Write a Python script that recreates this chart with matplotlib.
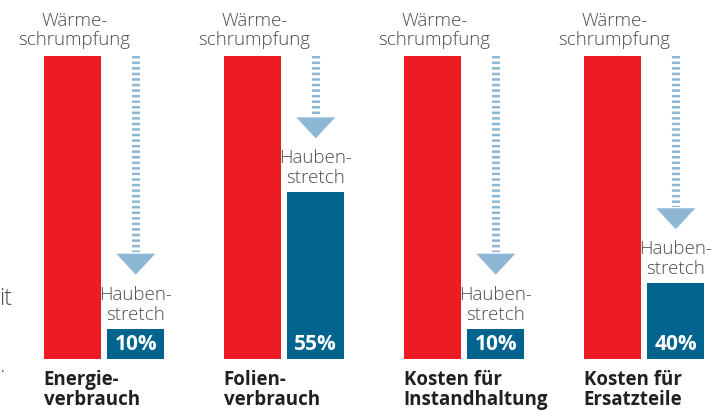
import matplotlib
matplotlib.use("Agg")
import matplotlib.pyplot as plt
from matplotlib.patches import Polygon

# ---- data ----
categories = ["Energie-\nverbrauch", "Folien-\nverbrauch", "Kosten für\nInstandhaltung", "Kosten für\nErsatzteile"]
waerme_values = [100, 100, 100, 100]          # Wärmeschrumpfung (reference = 100)
hauben_values = [10, 55, 10, 25]              # bar heights as drawn
hauben_labels = ["10%", "55%", "10%", "40%"]  # printed values
top_label = "Wärme-\nschrumpfung"
hauben_name = "Hauben-\nstretch"

RED = "#ED1C24"
BLUE = "#00648F"
ARROW = "#8DB7D4"
GRAY = "#4D4D4D"
DARK = "#231F20"

plt.rcParams['lines.scale_dashes'] = False
LIGHT_FONT = ["Open Sans", "DejaVu Sans"]
BOLD_FONT = ["Open Sans", "DejaVu Sans"]

fig = plt.figure(figsize=(7.28, 4.11), dpi=100)
ax = fig.add_axes([0, 0, 1, 1])
ax.set_xlim(-104 / 180, (728 - 104) / 180)
ax.set_ylim(-(411 - 359) / 3.03, 359 / 3.03)
ax.axis("off")

PX_Y = 100 / 303.0    # data units per pixel (y)
PX_X = 1 / 180.0      # data units per pixel (x)
off = 0.1764
w = 57 * PX_X

for i, cat in enumerate(categories):
    xr = i - off
    xb = i + off
    ax.bar(xr, waerme_values[i], width=w, color=RED, linewidth=0)
    ax.bar(xb, hauben_values[i], width=w, color=BLUE, linewidth=0)

    # top label over red bar
    for k, line in enumerate(top_label.split("\n")):
        ax.annotate(line, xy=(xr, waerme_values[i]), xytext=(2, 30 - 19 * k),
                    textcoords="offset pixels", ha="center", va="baseline",
                    fontsize=13.5, color=GRAY, family=LIGHT_FONT, fontweight="light")

    # Hauben label over blue bar
    for k, line in enumerate(hauben_name.split("\n")):
        ax.annotate(line, xy=(xb, hauben_values[i]), xytext=(0, 29 - 20 * k),
                    textcoords="offset pixels", ha="center", va="baseline",
                    fontsize=13.5, color=GRAY, family=LIGHT_FONT, fontweight="light")

    # percentage label inside blue bar
    ax.annotate(hauben_labels[i], xy=(xb, 0), xytext=(0, 9),
                textcoords="offset pixels", ha="center", va="baseline",
                fontsize=15, color="white", family=BOLD_FONT, fontweight="bold")

    # category label below
    for k, line in enumerate(cat.split("\n")):
        ax.annotate(line, xy=(xr - w / 2, 0), xytext=(0, -26 - 20 * k),
                    textcoords="offset pixels", ha="left", va="baseline",
                    fontsize=13.5, color=DARK, family=BOLD_FONT, fontweight="bold")

    # arrow: dashed shaft + triangular head
    tip = hauben_values[i] + 54 * PX_Y
    head_h = 21 * PX_Y
    head_w = 39 * PX_X
    ax.plot([xb, xb], [waerme_values[i], tip + head_h + 1.5 * PX_Y], color=ARROW,
            linewidth=5.8, solid_capstyle="butt", dash_capstyle="butt",
            dashes=(1.8, 2.2))
    ax.add_patch(Polygon([(xb - head_w / 2, tip + head_h), (xb + head_w / 2, tip + head_h),
                          (xb, tip)], closed=True, facecolor=ARROW, edgecolor="none"))

# remnants of neighbouring text at the left edge
ax.text(-104 / 180 - 1 * PX_X, 17.8, "it", ha="left", va="baseline", fontsize=16.5,
        color=GRAY, family=LIGHT_FONT, fontweight="light")
ax.text(-104 / 180 + 1 * PX_X, -3.0, ".", ha="left", va="center", fontsize=10,
        color=GRAY, family=LIGHT_FONT)

fig.savefig("out.png", dpi=100)
